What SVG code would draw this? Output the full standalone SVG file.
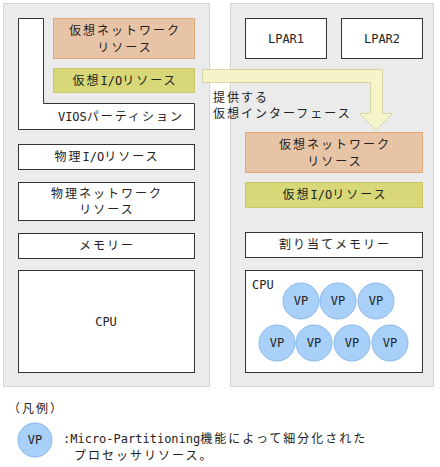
<svg xmlns="http://www.w3.org/2000/svg" width="440" height="467" viewBox="0 0 440 467">
<style>
text{font-family:"Noto Sans CJK JP","DejaVu Sans",sans-serif;font-size:12px;fill:#222;letter-spacing:2px;}
.c{text-anchor:middle;}
.m{font-family:"DejaVu Sans Mono","Noto Sans CJK JP",monospace;letter-spacing:0;}
.panel{fill:#ebebeb;stroke:#d4d4d4;stroke-width:1;}
.box{fill:#fff;stroke:#333;stroke-width:1;}
.net{fill:#e8c4a6;stroke:#e0a878;stroke-width:1;}
.io{fill:#d8d878;stroke:#c8c86a;stroke-width:1;}
.vp{fill:#a8d0f8;stroke:#88b8ec;stroke-width:1;}
.arrow{fill:#f4f4c8;stroke:#d4d4a4;stroke-width:1;}
</style>
<g id="panel-left"><rect class="panel" x="3.5" y="3.5" width="206" height="383"/></g>
<g id="panel-right"><rect class="panel" x="230.5" y="3.5" width="203" height="383"/></g>
<g id="vios"><path class="box" d="M18.5 18.5 H43.5 V103.5 H194.5 V129.5 H18.5 Z"/><text x="121" y="121" class="c"><tspan class="m">VIOS</tspan>パーティション</text></g>
<g id="vnet-left"><rect class="net" x="53.5" y="18.5" width="141" height="40"/><text x="125" y="35" class="c">仮想ネットワーク</text><text x="125" y="52" class="c">リソース</text></g>
<g id="vio-left"><rect class="io" x="53.5" y="68.5" width="141" height="24"/><text x="125" y="85" class="c">仮想<tspan class="m">I/O</tspan>リソース</text></g>
<g id="pio"><rect class="box" x="18.5" y="144.5" width="176" height="25"/><text x="107" y="161" class="c">物理<tspan class="m">I/O</tspan>リソース</text></g>
<g id="pnet"><rect class="box" x="18.5" y="182.5" width="176" height="38"/><text x="107" y="198" class="c">物理ネットワーク</text><text x="107" y="214" class="c">リソース</text></g>
<g id="mem"><rect class="box" x="18.5" y="233.5" width="176" height="25"/><text x="107" y="250" class="c">メモリー</text></g>
<g id="cpu-left"><rect class="box" x="18.5" y="270.5" width="176" height="102"/><text x="106" y="326" class="c m">CPU</text></g>
<g id="lpar1"><rect class="box" x="245.5" y="18.5" width="81" height="40"/><text x="286" y="43" class="c m">LPAR1</text></g>
<g id="lpar2"><rect class="box" x="341.5" y="18.5" width="81" height="40"/><text x="382" y="43" class="c m">LPAR2</text></g>
<g id="connectors"><path class="arrow" d="M202.5 69.5 H382.5 V113.5 H392.5 L376 130 L359.5 113.5 H370.5 V82.5 H202.5 Z"/></g>
<g id="label-arrow"><text x="213" y="102">提供する</text><text x="213" y="118">仮想インターフェース</text></g>
<g id="vnet-right"><rect class="net" x="245.5" y="132.5" width="177" height="40"/><text x="335" y="149" class="c">仮想ネットワーク</text><text x="335" y="166" class="c">リソース</text></g>
<g id="vio-right"><rect class="io" x="245.5" y="182.5" width="177" height="25"/><text x="335" y="199" class="c">仮想<tspan class="m">I/O</tspan>リソース</text></g>
<g id="amem"><rect class="box" x="245.5" y="232.5" width="177" height="25"/><text x="335" y="249" class="c">割り当てメモリー</text></g>
<g id="cpu-right"><rect class="box" x="245.5" y="270.5" width="177" height="102"/><text x="252" y="289" class="m">CPU</text>
<g id="vp1"><circle class="vp" cx="301" cy="301" r="18"/><text x="301" y="305" class="c m">VP</text></g>
<g id="vp2"><circle class="vp" cx="338" cy="301" r="18"/><text x="338" y="305" class="c m">VP</text></g>
<g id="vp3"><circle class="vp" cx="376" cy="301" r="18"/><text x="376" y="305" class="c m">VP</text></g>
<g id="vp4"><circle class="vp" cx="277" cy="343" r="18"/><text x="277" y="347" class="c m">VP</text></g>
<g id="vp5"><circle class="vp" cx="314" cy="343" r="18"/><text x="314" y="347" class="c m">VP</text></g>
<g id="vp6"><circle class="vp" cx="352" cy="343" r="18"/><text x="352" y="347" class="c m">VP</text></g>
<g id="vp7"><circle class="vp" cx="390" cy="343" r="18"/><text x="390" y="347" class="c m">VP</text></g>
</g>
<g id="legend"><text x="8" y="413">（凡例）</text><circle class="vp" cx="35" cy="440" r="17"/><text x="35" y="444" class="c m">VP</text><text x="63" y="443"><tspan class="m">:Micro-Partitioning</tspan>機能によって細分化された</text><text x="74" y="460">プロセッサリソース。</text></g>
</svg>
